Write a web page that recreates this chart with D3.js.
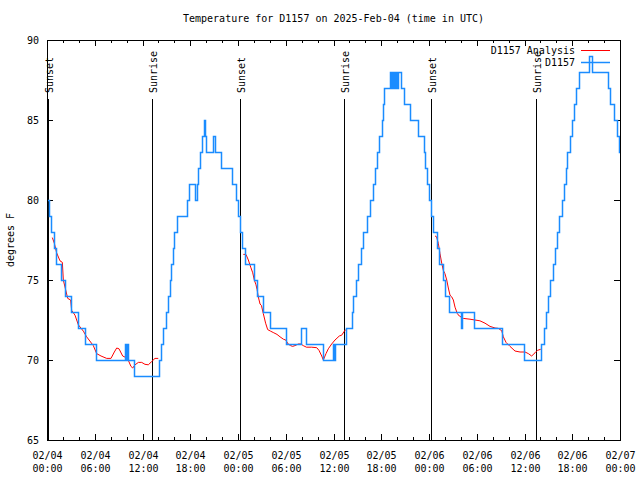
<!DOCTYPE html>
<html>
<head>
<meta charset="utf-8">
<script src="https://cdn.jsdelivr.net/npm/d3@7"></script>
<style>
  body { margin: 0; background: #fff; }
  svg text { font-family: "DejaVu Sans Mono", "Liberation Mono", monospace; font-size: 10px; fill: #000; }
</style>
</head>
<body>
<svg id="chart" width="640" height="480"></svg>
<script>
// Hours after 2025-02-04 00:00 UTC
const obsHours = [0, 0.3, 0.55, 0.85, 1.1, 1.75, 2.2, 3.0, 3.94, 4.75, 6.1, 9.8, 9.95, 10.1, 10.2, 10.9,
  14.1, 14.35, 14.6, 15.0, 15.25, 15.45, 15.6, 15.8, 15.95, 16.3, 17.6, 17.9, 18.6, 18.8, 19.0, 19.2,
  19.45, 19.7, 19.85, 20.0, 20.9, 21.1, 21.85, 23.2, 23.8, 24.0, 24.2, 24.55, 24.85, 26.0, 26.45, 27.2,
  28.0, 30.05, 31.95, 32.6, 34.7, 35.9, 36.0, 36.15, 37.6, 38.3, 38.5, 38.8, 39.1, 39.4, 39.75, 40.2,
  40.6, 41.0, 41.25, 41.45, 41.75, 42.05, 42.2, 42.4, 43.15, 43.25, 43.4, 43.5, 43.65, 43.75, 43.9, 44.0,
  44.15, 44.5, 44.85, 45.65, 46.6, 47.35, 47.55, 47.8, 48.05, 48.3, 48.5, 49.0, 49.3, 49.7, 50.0, 50.5,
  52.0, 52.2, 53.65, 57.2, 59.9, 62.1, 62.4, 62.65, 62.9, 63.2, 63.55, 63.8, 64.05, 64.3, 64.7, 64.97,
  65.2, 65.4, 65.7, 66.0, 66.2, 66.5, 66.8, 68.15, 68.45, 70.55, 70.8, 71.2, 71.6, 71.9, 72.0];
const obsTemps = [80, 79, 78, 77, 76, 75, 74, 73, 72, 71, 70, 71, 70, 71, 70, 69,
  70, 71, 72, 73, 74, 75, 76, 77, 78, 79, 80, 81, 80, 81, 82, 83,
  84, 85, 84, 83, 84, 83, 82, 81, 80, 79, 78, 77, 76, 75, 74, 73,
  72, 71, 72, 71, 70, 71, 70, 71, 72, 73, 74, 75, 76, 77, 78, 79,
  80, 81, 82, 83, 84, 85, 86, 87, 88, 87, 88, 87, 88, 87, 88, 87,
  88, 87, 86, 85, 84, 83, 82, 81, 80, 79, 78, 77, 76, 75, 74, 73,
  72, 73, 72, 71, 70, 71, 72, 73, 74, 75, 76, 77, 78, 79, 80, 81,
  82, 83, 84, 85, 86, 87, 88, 89, 88, 87, 86, 85, 84, 83, 83];

// analysis, null marks a gap between nights
const anaHours = [0.67, 0.92, 1.21, 1.63, 1.93, 2.05, 2.34, 2.6, 2.97, 3.1, 3.52, 3.94, 4.57, 4.98, 5.82,
  6.24, 6.79, 7.5, 8.04, 8.46, 8.76, 9.05, 9.51, 9.93, 10.2, 10.55, 10.77, 11.06, 11.48, 11.9, 12.31,
  12.73, 13.15, 13.57, 13.98, null,
  24.67, 25.0, 25.3, 25.6, 25.85, 26.05, 26.26, 26.4, 26.55, 26.77, 26.95, 27.18, 27.47, 27.73, 28.1,
  28.5, 28.9, 29.28, 29.7, 30.0, 30.3, 30.6, 30.86, 31.16, 31.58, 31.9, 32.2, 32.6, 33.26, 33.89, 34.18,
  34.52, 34.72, 35.06, 35.35, 35.77, 36.19, 36.73, 37.03, 37.32, 37.53, null,
  48.76, 48.95, 49.17, 49.38, 49.6, 49.8, 50.0, 50.23, 50.43, 50.64, 50.85, 51.06, 51.27, 51.56, 51.81,
  52.31, 53.15, 53.78, 54.4, 55.04, 55.67, 56.3, 56.7, 57.14, 57.34, 57.68, 58.18, 58.81, 59.44, 60.07,
  60.48, 60.9, 61.32, 61.61, 62.04];
const anaTemps = [77.65, 77.3, 76.7, 76.2, 76.1, 75.0, 74.4, 73.85, 73.75, 73.1, 72.8, 72.2, 71.8, 71.45, 70.9,
  70.4, 70.25, 70.1, 70.1, 70.5, 70.75, 70.7, 70.25, 70.15, 70.0, 69.6, 69.5, 69.7, 69.85, 69.85, 69.73,
  69.7, 69.9, 70.1, 70.1, null,
  76.6, 76.6, 76.25, 75.8, 75.45, 75.0, 74.7, 74.4, 73.95, 73.5, 73.4, 72.9, 72.3, 71.9, 71.8,
  71.7, 71.6, 71.45, 71.3, 71.25, 71.0, 70.9, 70.85, 70.9, 71.0, 71.0, 70.9, 70.8, 70.8, 70.77, 70.6,
  70.25, 70.0, 70.4, 70.7, 71.0, 71.25, 71.5, 71.55, 71.77, 71.9, null,
  77.75, 77.7, 77.3, 76.65, 76.05, 75.6, 75.4, 75.0, 74.5, 74.05, 73.95, 73.75, 73.3, 72.9, 72.75,
  72.6, 72.55, 72.5, 72.45, 72.3, 72.1, 72.0, 71.98, 71.83, 71.45, 71.1, 70.85, 70.56, 70.5, 70.5,
  70.4, 70.25, 70.45, 70.6, 70.67];

const sunsetHours = [0.16, 24.29, 48.29];
const sunriseHours = [13.23, 37.36, 61.5];
const yTicks = [65, 70, 75, 80, 85, 90];
const titleText = "Temperature for D1157 on 2025-Feb-04 (time in UTC)";
const yLabel = "degrees F";
const legendNames = ["D1157 Analysis", "D1157"];

const t0 = Date.UTC(2025, 1, 4);
const toDate = h => new Date(t0 + h * 3600e3);

const margin = { left: 47, right: 20, top: 40, bottom: 40 };
const W = 640, H = 480;
const svg = d3.select('#chart');

const x = d3.scaleUtc()
  .domain([toDate(0), toDate(72)])
  .range([margin.left, W - margin.right]);
const y = d3.scaleLinear()
  .domain([65, 90])
  .range([H - margin.bottom, margin.top]);

const x0 = margin.left, x1 = W - margin.right, y0 = H - margin.bottom, y1 = margin.top;
const px = v => Math.round(v) + 0.5;

// Title
svg.append('text')
  .attr('x', (x0 + x1) / 2).attr('y', 22)
  .attr('text-anchor', 'middle')
  .text(titleText);

// Y axis label
svg.append('text')
  .attr('transform', `translate(14, ${(y0 + y1) / 2}) rotate(-90)`)
  .attr('text-anchor', 'middle')
  .text(yLabel);

// Ticks: inward, mirrored on both sides
const g = svg.append('g').attr('stroke', '#000').attr('stroke-width', 1).attr('shape-rendering', 'crispEdges');
yTicks.forEach(v => {
  const yy = px(y(v));
  g.append('line').attr('x1', x0).attr('x2', x0 + 6).attr('y1', yy).attr('y2', yy);
  g.append('line').attr('x1', x1).attr('x2', x1 - 6).attr('y1', yy).attr('y2', yy);
  svg.append('text').attr('x', 39).attr('y', yy).attr('dy', '0.35em')
    .attr('text-anchor', 'end').text(v);
});

const minorTicks = x.ticks(d3.utcHour.every(2));
minorTicks.forEach(d => {
  const xx = px(x(d));
  const major = d.getUTCHours() % 6 === 0;
  const len = major ? 6 : 3;
  g.append('line').attr('x1', xx).attr('x2', xx).attr('y1', y0).attr('y2', y0 - len);
  g.append('line').attr('x1', xx).attr('x2', xx).attr('y1', y1).attr('y2', y1 + len);
  if (major) {
    const t = svg.append('text').attr('x', xx).attr('y', 459).attr('text-anchor', 'middle');
    t.append('tspan').attr('x', xx).text(d3.utcFormat('%m/%d')(d));
    t.append('tspan').attr('x', xx).attr('dy', 13).text(d3.utcFormat('%H:%M')(d));
  }
});

// Sunset / sunrise markers
const markers = sunsetHours.map(h => ({ h, name: 'Sunset' }))
  .concat(sunriseHours.map(h => ({ h, name: 'Sunrise' })));
markers.forEach(m => {
  const xx = px(x(toDate(m.h)));
  svg.append('line')
    .attr('x1', xx).attr('x2', xx).attr('y1', 99).attr('y2', y0)
    .attr('stroke', '#000').attr('stroke-width', 1)
    .attr('shape-rendering', 'crispEdges');
  svg.append('text')
    .attr('transform', `translate(${xx + 1}, 93) rotate(-90)`)
    .attr('dy', '0.35em')
    .attr('text-anchor', 'start')
    .text(m.name);
});

// Analysis line
const anaData = anaHours.map((h, i) => ({ h, v: anaTemps[i] }));
const anaLine = d3.line()
  .defined(d => d.h !== null)
  .x(d => x(toDate(d.h)))
  .y(d => y(d.v));
svg.append('path')
  .datum(anaData)
  .attr('d', anaLine)
  .attr('fill', 'none')
  .attr('stroke', '#ff0000')
  .attr('stroke-width', 1);

// Observations
const obsData = obsHours.map((h, i) => ({ h, v: obsTemps[i] }));
const obsLine = d3.line()
  .curve(d3.curveStepAfter)
  .x(d => px(x(toDate(d.h))))
  .y(d => px(y(d.v)));
svg.append('path')
  .datum(obsData)
  .attr('d', obsLine)
  .attr('fill', 'none')
  .attr('stroke', '#1a8cff')
  .attr('stroke-width', 1.5);

// Border
svg.append('rect')
  .attr('x', x0 + 0.5).attr('y', y1 + 0.5)
  .attr('width', x1 - x0).attr('height', y0 - y1)
  .attr('fill', 'none').attr('stroke', '#000').attr('stroke-width', 1)
  .attr('shape-rendering', 'crispEdges');

// Legend
const legendColors = ['#ff0000', '#1a8cff'];
legendNames.forEach((n, i) => {
  const ly = px(50 + i * 12);
  svg.append('text').attr('x', 575).attr('y', ly).attr('dy', '0.35em')
    .attr('text-anchor', 'end').text(n);
  svg.append('line').attr('x1', 581).attr('x2', 610).attr('y1', ly).attr('y2', ly)
    .attr('stroke', legendColors[i]).attr('stroke-width', i ? 1.5 : 1);
});
</script>
</body>
</html>
